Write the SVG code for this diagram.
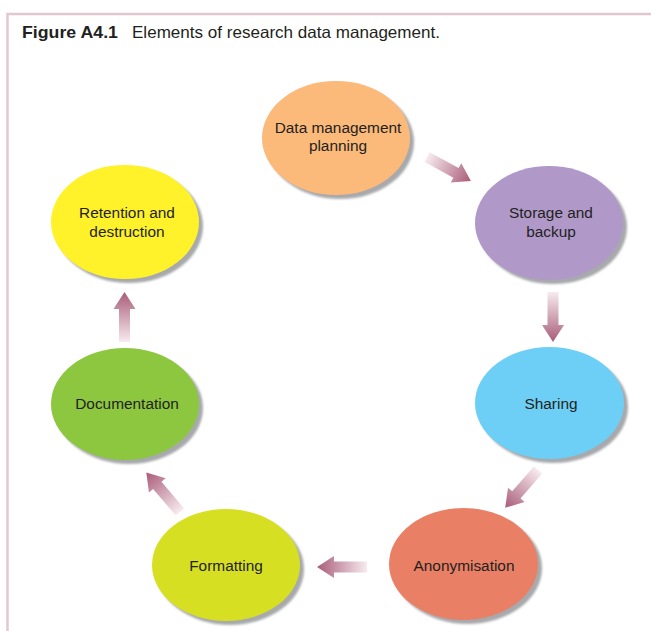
<svg xmlns="http://www.w3.org/2000/svg" width="651" height="631" viewBox="0 0 651 631">
<style>
.lbl{font-family:"Liberation Sans",Arial,sans-serif;font-size:15.4px;fill:#231f20;text-anchor:middle}
.ttl{font-family:"Liberation Sans",Arial,sans-serif;font-size:16.5px;fill:#231f20}
.sh{fill:#a7a9ac}
.arr{fill:url(#ag)}
</style>
<defs>
<linearGradient id="ag" x1="0" y1="0" x2="1" y2="0">
<stop offset="0" stop-color="#f7ebef"/>
<stop offset="1" stop-color="#a95c78"/>
</linearGradient>
<filter id="blur" x="-10%" y="-10%" width="120%" height="120%"><feGaussianBlur stdDeviation="0.8"/></filter>
</defs>
<rect width="651" height="631" fill="#ffffff"/>
<path d="M7.5,631 V14 H651" fill="none" stroke="#e2c7ce" stroke-width="2.5"/>
<text class="ttl" x="22" y="38" font-weight="bold" textLength="96" lengthAdjust="spacingAndGlyphs">Figure A4.1</text>
<text class="ttl" x="132" y="38" textLength="308" lengthAdjust="spacingAndGlyphs">Elements of research data management.</text>

<g id="connectors">
<path class="arr" transform="translate(427,157) rotate(28.6)" d="M0,-5.5 H33 V-11 L50,0 L33,11 V5.5 H0 Z"/>
<path class="arr" transform="translate(553,292) rotate(90)" d="M0,-5.5 H33 V-11 L50,0 L33,11 V5.5 H0 Z"/>
<path class="arr" transform="translate(538,470) rotate(131)" d="M0,-5.5 H33 V-11 L50,0 L33,11 V5.5 H0 Z"/>
<path class="arr" transform="translate(367,567) rotate(180)" d="M0,-5.5 H33 V-11 L50,0 L33,11 V5.5 H0 Z"/>
<path class="arr" transform="translate(180,512) rotate(-130.4)" d="M0,-5.5 H35 V-11 L52,0 L35,11 V5.5 H0 Z"/>
<path class="arr" transform="translate(124.5,342) rotate(-90)" d="M0,-5.5 H33 V-11 L50,0 L33,11 V5.5 H0 Z"/>
</g>

<g id="n1">
<ellipse class="sh" cx="340" cy="142" rx="74" ry="57" filter="url(#blur)"/>
<ellipse cx="336" cy="138" rx="74" ry="57" fill="#fbb97a"/>
<text class="lbl" x="338" y="133">Data management</text>
<text class="lbl" x="338" y="151">planning</text>
</g>
<g id="n2">
<ellipse class="sh" cx="553" cy="227" rx="74" ry="57" filter="url(#blur)"/>
<ellipse cx="549" cy="223" rx="74" ry="57" fill="#b099c9"/>
<text class="lbl" x="551" y="218">Storage and</text>
<text class="lbl" x="551" y="237">backup</text>
</g>
<g id="n3">
<ellipse class="sh" cx="553.5" cy="407" rx="74.5" ry="56" filter="url(#blur)"/>
<ellipse cx="549.5" cy="403" rx="74.5" ry="56" fill="#6dcff6"/>
<text class="lbl" x="551" y="409">Sharing</text>
</g>
<g id="n4">
<ellipse class="sh" cx="467.5" cy="568" rx="74.5" ry="56" filter="url(#blur)"/>
<ellipse cx="463.5" cy="564" rx="74.5" ry="56" fill="#e98066"/>
<text class="lbl" x="464" y="571">Anonymisation</text>
</g>
<g id="n5">
<ellipse class="sh" cx="230" cy="569" rx="74" ry="56" filter="url(#blur)"/>
<ellipse cx="226" cy="565" rx="74" ry="56" fill="#d7df23"/>
<text class="lbl" x="226" y="571">Formatting</text>
</g>
<g id="n6">
<ellipse class="sh" cx="129" cy="408" rx="74" ry="56" filter="url(#blur)"/>
<ellipse cx="125" cy="404" rx="74" ry="56" fill="#8dc63f"/>
<text class="lbl" x="127" y="409">Documentation</text>
</g>
<g id="n7">
<ellipse class="sh" cx="129" cy="226" rx="74" ry="57" filter="url(#blur)"/>
<ellipse cx="125" cy="222" rx="74" ry="57" fill="#fff22a"/>
<text class="lbl" x="127" y="218">Retention and</text>
<text class="lbl" x="127" y="237">destruction</text>
</g>
</svg>
